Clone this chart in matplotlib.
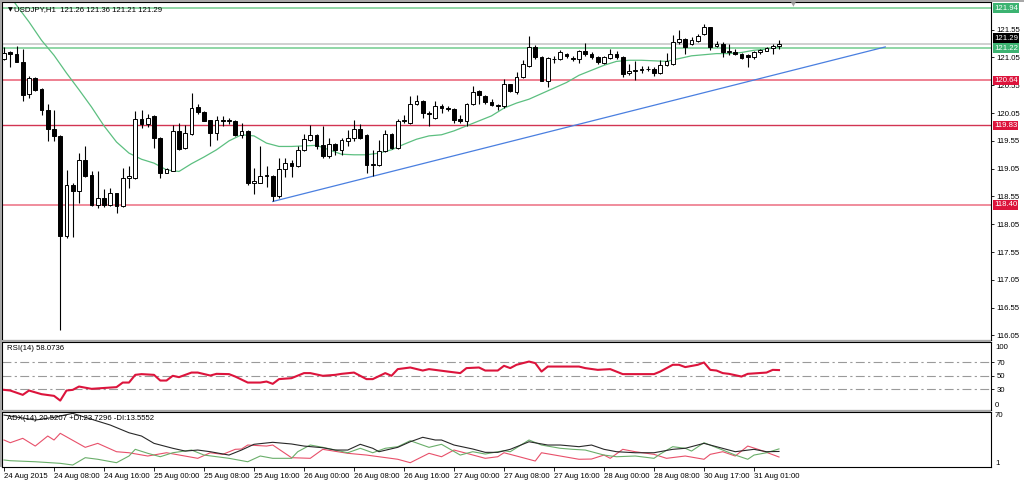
import matplotlib
matplotlib.use("Agg")
import matplotlib.pyplot as plt
import matplotlib.transforms as mtransforms
from matplotlib.patches import Rectangle

plt.rcParams["font.family"] = ["Liberation Sans", "DejaVu Sans"]

W, H = 1024, 483
FS = 5.6

# USDJPY H1 candles, 24 Aug 2015 00:00 onwards
opens = [121.02, 121.14, 121.11, 120.96, 120.39, 120.68, 120.48, 120.11, 119.76, 119.64,
         117.84, 118.76, 118.65, 119.20, 118.93, 118.40, 118.53, 118.40, 118.61, 118.38,
         118.88, 118.88, 119.94, 119.85, 120.00, 119.60, 118.98, 119.01, 119.73, 119.42,
         119.67, 120.16, 120.07, 119.92, 119.69, 119.93, 119.91, 119.91, 119.66, 119.73,
         118.80, 118.80, 118.92, 118.91, 118.55, 119.04, 119.16, 119.09, 119.39, 119.57,
         119.65, 119.47, 119.28, 119.49, 119.39, 119.54, 119.61, 119.77, 119.66, 119.12,
         119.11, 119.36, 119.67, 119.42, 119.91, 119.88, 120.21, 120.27, 120.05, 119.97,
         120.18, 120.14, 120.12, 119.94, 119.91, 120.21, 120.44, 120.35, 120.25, 120.20,
         120.17, 120.57, 120.43, 120.70, 120.90, 121.24, 121.06, 120.63, 121.03, 121.02,
         121.12, 121.04, 121.02, 121.17, 121.12, 121.05, 120.95, 121.04, 121.11, 121.06,
         120.78, 120.80, 120.83, 120.85, 120.84, 120.77, 120.92, 120.93, 121.32, 121.38,
         121.29, 121.35, 121.47, 121.59, 121.26, 121.30, 121.15, 121.15, 121.11, 121.10,
         121.05, 121.14, 121.17, 121.22, 121.26]
highs = [121.24, 121.16, 121.26, 121.20, 120.71, 120.70, 120.50, 120.21, 120.10, 119.66,
         119.03, 118.80, 119.33, 119.46, 119.00, 119.00, 118.68, 118.70, 118.62, 119.06,
         119.09, 120.09, 120.11, 120.03, 120.01, 119.62, 119.06, 119.83, 119.88, 119.83,
         120.41, 120.22, 120.08, 119.93, 120.00, 120.00, 119.96, 119.93, 119.87, 119.75,
         119.06, 119.45, 119.09, 118.93, 119.24, 119.24, 119.20, 119.45, 119.67, 119.83,
         119.67, 119.81, 119.61, 119.52, 119.61, 119.75, 119.93, 119.85, 119.68, 119.39,
         119.57, 119.75, 119.70, 119.95, 120.02, 120.35, 120.38, 120.29, 120.09, 120.27,
         120.22, 120.17, 120.14, 120.02, 120.24, 120.54, 120.47, 120.37, 120.31, 120.22,
         120.66, 120.58, 120.79, 121.00, 121.43, 121.28, 121.07, 121.06, 121.08, 121.19,
         121.13, 121.08, 121.19, 121.31, 121.14, 121.07, 121.08, 121.21, 121.16, 121.08,
         120.93, 120.98, 120.89, 120.89, 120.87, 121.00, 121.13, 121.45, 121.55, 121.40,
         121.42, 121.47, 121.65, 121.60, 121.35, 121.32, 121.29, 121.20, 121.13, 121.12,
         121.17, 121.21, 121.24, 121.30, 121.36]
lows = [121.00, 120.88, 120.96, 120.26, 120.32, 120.44, 120.02, 119.55, 119.55, 116.15,
        117.80, 117.83, 118.44, 118.90, 118.38, 118.34, 118.37, 118.38, 118.25, 118.37,
        118.70, 118.86, 119.79, 119.80, 119.42, 118.88, 118.97, 119.00, 119.39, 119.40,
        119.66, 120.04, 119.90, 119.45, 119.57, 119.81, 119.86, 119.63, 119.60, 118.76,
        118.59, 118.79, 118.72, 118.46, 118.53, 118.90, 118.90, 119.08, 119.37, 119.55,
        119.40, 119.25, 119.25, 119.30, 119.30, 119.45, 119.55, 119.58, 118.97, 118.92,
        119.10, 119.35, 119.40, 119.40, 119.87, 119.86, 120.20, 119.97, 119.81, 119.95,
        120.05, 120.09, 119.87, 119.87, 119.81, 120.19, 120.21, 120.22, 120.17, 120.10,
        120.15, 120.43, 120.40, 120.68, 120.88, 121.02, 120.62, 120.52, 120.95, 121.00,
        121.04, 120.99, 120.95, 121.08, 121.03, 120.93, 120.94, 121.02, 121.03, 120.70,
        120.73, 120.65, 120.77, 120.80, 120.72, 120.76, 120.90, 120.91, 121.30, 121.12,
        121.27, 121.33, 121.45, 121.18, 121.24, 121.06, 121.10, 121.10, 121.02, 120.88,
        121.02, 121.12, 121.16, 121.11, 121.21]
closes = [121.13, 121.12, 120.97, 120.38, 120.68, 120.47, 120.11, 119.76, 119.64, 117.84,
          118.76, 118.65, 119.21, 118.92, 118.40, 118.53, 118.40, 118.61, 118.38, 118.88,
          118.92, 119.94, 119.85, 119.97, 119.60, 118.98, 119.05, 119.73, 119.40, 119.69,
          120.15, 120.07, 119.91, 119.69, 119.93, 119.91, 119.93, 119.66, 119.73, 118.80,
          118.82, 118.92, 118.93, 118.55, 119.04, 119.15, 119.09, 119.39, 119.58, 119.66,
          119.45, 119.28, 119.49, 119.39, 119.57, 119.61, 119.76, 119.60, 119.12, 119.13,
          119.37, 119.67, 119.43, 119.91, 119.92, 120.21, 120.27, 120.05, 120.03, 120.18,
          120.14, 120.12, 119.93, 119.91, 120.21, 120.43, 120.37, 120.25, 120.19, 120.18,
          120.57, 120.45, 120.70, 120.93, 121.24, 121.05, 120.63, 121.04, 121.02, 121.14,
          121.07, 121.03, 121.17, 121.11, 121.05, 120.96, 121.06, 121.11, 121.05, 120.75,
          120.80, 120.82, 120.85, 120.84, 120.77, 120.92, 120.99, 121.32, 121.38, 121.24,
          121.37, 121.44, 121.60, 121.24, 121.30, 121.15, 121.16, 121.12, 121.04, 121.05,
          121.15, 121.19, 121.22, 121.26, 121.29]

# moving average (every 2nd bar)
ma_idx = list(range(0, 125, 2))
ma_val = [122.30, 121.99, 121.69, 121.36, 121.09, 120.77, 120.47, 120.16, 119.82, 119.53,
          119.33, 119.22, 119.15, 119.03, 119.00, 119.14, 119.26, 119.39, 119.55, 119.66,
          119.64, 119.51, 119.45, 119.45, 119.46, 119.47, 119.39, 119.31, 119.30, 119.30,
          119.33, 119.39, 119.49, 119.58, 119.64, 119.66, 119.73, 119.82, 119.91, 120.00,
          120.14, 120.23, 120.30, 120.40, 120.50, 120.60, 120.73, 120.82, 120.91, 120.98,
          121.00, 121.00, 120.99, 120.98, 121.03, 121.08, 121.10, 121.12, 121.12, 121.14,
          121.18, 121.20, 121.24]

rsi_idx = [0, 1, 3, 4, 6, 8, 9, 10, 11, 12, 14, 17, 18, 19, 20, 21, 22, 24, 25, 26,
           27, 28, 30, 31, 33, 34, 36, 37, 39, 41, 42, 43, 44, 46, 48, 49, 51, 53, 54, 56,
           58, 59, 61, 62, 63, 65, 67, 68, 71, 73, 74, 76, 77, 79, 80, 81, 82, 84, 85, 86,
           87, 90, 92, 93, 95, 97, 99, 101, 104, 105, 107, 108, 109, 111, 112, 113, 114, 115, 116, 118,
           119, 122, 123, 124]
rsi_val = [28.8, 27.8, 21.4, 27.8, 22.4, 19.9, 12.9, 27.8, 28.8, 33.7, 30.3, 32.2, 32.8, 39.6, 39.6, 51.0, 52.1, 51.0, 42.6, 42.6,
           49.6, 47.6, 54.4, 54.4, 50.0, 52.5, 52.1, 48.5, 39.6, 39.6, 41.1, 37.7, 44.7, 46.1, 53.6, 53.6, 49.6, 51.0, 52.5, 54.4,
           44.7, 44.7, 53.6, 49.6, 59.5, 61.9, 57.4, 59.5, 55.9, 53.6, 61.0, 61.9, 57.4, 57.4, 64.4, 61.0, 65.9, 70.7, 68.4, 55.9,
           63.3, 63.3, 63.3, 61.0, 58.4, 59.5, 52.1, 52.1, 52.1, 55.9, 65.9, 65.9, 62.5, 65.9, 69.3, 58.4, 57.4, 53.6, 52.5, 48.5,
           52.5, 54.4, 58.4, 58.07]

adx_idx = [0, 5, 8, 11, 13, 17, 20, 22, 24, 27, 29, 31, 33, 36, 38, 40, 43, 46, 48, 51,
           53, 55, 57, 59, 60, 63, 65, 67, 69, 70, 72, 75, 77, 79, 81, 84, 87, 89, 92, 94,
           96, 98, 101, 104, 107, 109, 112, 114, 117, 120, 122, 124]
adx_val = [66.2, 60.0, 63.4, 68.4, 63.4, 53.7, 44.0, 39.9, 30.7, 24.5, 21.0, 22.3, 20.2, 16.0, 22.3, 29.5, 32.0, 29.9, 27.3, 25.2,
           22.3, 22.3, 29.5, 24.5, 20.2, 25.7, 32.7, 38.3, 34.9, 34.9, 28.6, 23.6, 19.4, 19.4, 23.2, 32.7, 28.6, 28.6, 26.5, 28.6,
           23.2, 20.2, 18.9, 18.9, 23.2, 24.5, 30.7, 26.5, 20.2, 23.2, 20.2, 20.52]

pdi_idx = [0, 1, 5, 9, 11, 13, 15, 18, 20, 21, 23, 25, 27, 30, 32, 36, 39, 41, 43, 46,
           47, 49, 51, 55, 57, 59, 61, 63, 65, 68, 70, 73, 75, 77, 80, 81, 84, 86, 89, 91,
           93, 96, 98, 101, 104, 105, 107, 109, 110, 112, 115, 117, 119, 120, 122, 124]
pdi_val = [9.8, 8.9, 7.6, 5.6, 3.5, 12.7, 10.7, 6.4, 14.8, 23.2, 18.2, 13.9, 18.9, 22.3, 16.0, 11.9, 7.6, 14.8, 11.9, 11.9,
           20.2, 28.6, 25.7, 18.9, 24.5, 18.9, 24.5, 26.5, 34.0, 25.7, 29.5, 16.0, 20.2, 17.3, 21.5, 20.2, 34.9, 28.6, 24.5, 23.2,
           22.3, 16.0, 13.9, 14.8, 11.9, 17.3, 26.5, 24.5, 21.0, 31.5, 22.3, 16.0, 10.7, 16.0, 18.9, 23.73]

mdi_idx = [0, 1, 3, 5, 7, 8, 9, 13, 15, 18, 20, 23, 26, 31, 33, 35, 37, 38, 39, 42,
           43, 46, 49, 51, 55, 58, 63, 65, 68, 70, 72, 74, 77, 79, 80, 82, 85, 86, 89, 92,
           94, 96, 97, 99, 101, 104, 106, 109, 112, 113, 115, 117, 119, 121, 124]
mdi_val = [34.9, 31.5, 37.0, 27.3, 39.9, 34.9, 43.3, 25.7, 30.7, 20.2, 18.9, 14.8, 18.9, 11.9, 18.9, 16.9, 23.2, 23.6, 28.6, 27.3,
           28.6, 12.7, 11.9, 23.2, 18.2, 16.0, 10.7, 6.4, 18.2, 13.9, 22.3, 18.2, 11.9, 13.9, 18.9, 14.8, 8.5, 18.9, 14.8, 10.7,
           11.0, 16.0, 11.9, 23.2, 20.2, 16.9, 11.9, 14.8, 10.7, 16.9, 20.2, 14.8, 27.3, 22.3, 13.56]

trend_idx = [43, 141]
trend_val = [118.46, 121.24]

level_vals = [121.94, 121.22, 120.64, 119.83, 118.40]
level_line_colors = ["#8fd6a6", "#8fd6a6", "#ee8090", "#d23452", "#f08c9c"]
level_box_colors = ["#3cb371", "#3cb371", "#dc143c", "#dc143c", "#dc143c"]
bid_price = 121.29

price_ticks = [116.05, 116.55, 117.05, 117.55, 118.05, 118.55, 119.05, 119.55,
               120.05, 120.55, 121.05, 121.55]
date_idx = [0, 8, 16, 24, 32, 40, 48, 56, 64, 72, 80, 88, 96, 104, 112, 120]
date_labels = ["24 Aug 2015", "24 Aug 08:00", "24 Aug 16:00", "25 Aug 00:00", "25 Aug 08:00",
               "25 Aug 16:00", "26 Aug 00:00", "26 Aug 08:00", "26 Aug 16:00", "27 Aug 00:00",
               "27 Aug 08:00", "27 Aug 16:00", "28 Aug 00:00", "28 Aug 08:00", "30 Aug 17:00",
               "31 Aug 01:00"]

fig = plt.figure(figsize=(W / 100, H / 100), dpi=100, facecolor="white")


def px_axes(x0, y0, x1, y1):
    return fig.add_axes([x0 / W, 1 - y1 / H, (x1 - x0) / W, (y1 - y0) / H])


XL = (-0.32, 157.92)
ax = px_axes(2, 2, 991, 339.5)
ax_rsi = px_axes(2, 341.5, 991, 409.5)
ax_adx = px_axes(2, 411.5, 991, 467)

for a in (ax, ax_rsi, ax_adx):
    a.set_xlim(*XL)
    a.set_facecolor("white")
    for s in a.spines.values():
        s.set_color("black")
        s.set_linewidth(0.8)
    a.yaxis.tick_right()
    a.tick_params(axis="y", length=2.5, width=0.6, pad=1.5, labelsize=FS, colors="black")
    a.tick_params(axis="x", bottom=False, labelbottom=False)

# gaps / frame
for (x0, y0, x1, y1) in [(0, 0, 1024, 2), (0, 0, 2, 467), (2, 339.5, 991, 341.5), (2, 409.5, 991, 411.5)]:
    fig.patches.append(Rectangle((x0 / W, 1 - y1 / H), (x1 - x0) / W, (y1 - y0) / H,
                                 transform=fig.transFigure, facecolor="#a8a8a8",
                                 edgecolor="none", zorder=0))

# ---- main price panel
ax.set_ylim(115.978, 122.048)
ax.set_yticks(price_ticks)
ax.set_yticklabels(["%.2f" % p for p in price_ticks])

for p, c in zip(level_vals, level_line_colors):
    lw = 1.0 if c == "#d23452" else 1.4
    ax.axhline(p, color=c, lw=lw, zorder=1)
ax.axhline(bid_price, color="#c8c8c8", lw=1.2, zorder=1)

ax.plot(trend_idx, trend_val, color="#4a7fe0", lw=0.9, zorder=2)
ax.plot(ma_idx, ma_val, color="#5cbf80", lw=0.9, zorder=2)

idx = list(range(len(opens)))
ax.vlines(idx, lows, highs, color="black", lw=0.8, zorder=3)
bottoms = [min(o, c) for o, c in zip(opens, closes)]
heights = [max(abs(c - o), 0.002) for o, c in zip(opens, closes)]
faces = ["white" if c >= o else "black" for o, c in zip(opens, closes)]
ax.bar(idx, heights, bottom=bottoms, width=0.62, color=faces, edgecolor="black",
       linewidth=0.7, zorder=4)

blend = mtransforms.blended_transform_factory(ax.transAxes, ax.transData)
# bid label sits just above the 121.22 box (mostly hidden behind it in the original)
ax.text(1.003, bid_price + 0.045, "%.2f" % bid_price, transform=blend, ha="left", va="bottom",
        fontsize=FS, color="white", clip_on=False, zorder=5,
        bbox=dict(boxstyle="square,pad=0.15", fc="black", ec="none"))
for p, c in zip(level_vals, level_box_colors):
    ax.text(1.003, p, "%.2f" % p, transform=blend, ha="left", va="center",
            fontsize=FS, color="white", clip_on=False, zorder=6,
            bbox=dict(boxstyle="square,pad=0.15", fc=c, ec="none"))

fig.text(8 / W, 1 - 10 / H, "\u25bc", fontsize=4.5, color="black", ha="left", va="center",
         family="DejaVu Sans")
fig.text(14 / W, 1 - 10 / H, "USDJPY,H1  121.26 121.36 121.21 121.29", fontsize=FS,
         color="black", ha="left", va="center")
fig.text(793 / W, 1 - 5 / H, "\u25bc", fontsize=4.5, color="#a0a0a0", ha="center",
         va="center", family="DejaVu Sans")

# ---- RSI panel
ax_rsi.set_ylim(-0.3, 100.4)
for lv in (70, 50, 30):
    ax_rsi.axhline(lv, color="#9a9a9a", lw=0.8, ls=(0, (8, 3, 2, 3)), zorder=1)
ax_rsi.plot(rsi_idx, rsi_val, color="#dc143c", lw=1.5, zorder=3)
ax_rsi.set_yticks([30, 50, 70])
ax_rsi.set_yticklabels(["30", "50", "70"])
blend_r = mtransforms.blended_transform_factory(ax_rsi.transAxes, ax_rsi.transData)
ax_rsi.text(1.004, 97, "100", transform=blend_r, ha="left", va="top", fontsize=FS, clip_on=False)
ax_rsi.text(1.004, 1, "0", transform=blend_r, ha="left", va="bottom", fontsize=FS, clip_on=False)
fig.text(7 / W, 1 - 348 / H, "RSI(14) 58.0736", fontsize=FS, ha="left", va="center")

# ---- ADX panel
ax_adx.set_ylim(1, 70.7)
ax_adx.set_yticks([])
ax_adx.plot(mdi_idx, mdi_val, color="#e8506a", lw=0.8, zorder=2)
ax_adx.plot(pdi_idx, pdi_val, color="#6aae6a", lw=0.8, zorder=2)
ax_adx.plot(adx_idx, adx_val, color="#282828", lw=0.8, zorder=3)
blend_a = mtransforms.blended_transform_factory(ax_adx.transAxes, ax_adx.transData)
ax_adx.text(1.004, 70, "70", transform=blend_a, ha="left", va="top", fontsize=FS, clip_on=False)
ax_adx.text(1.004, 1.5, "1", transform=blend_a, ha="left", va="bottom", fontsize=FS, clip_on=False)
fig.text(7 / W, 1 - 418 / H, "ADX(14) 20.5207 +DI:23.7296 -DI:13.5552", fontsize=FS,
         ha="left", va="center")

ax_adx.tick_params(axis="x", bottom=True, labelbottom=True, length=3, width=0.6,
                   direction="out", pad=1.5, labelsize=FS)
ax_adx.set_xticks(date_idx)
ax_adx.set_xticklabels(date_labels)
for lbl in ax_adx.get_xticklabels():
    lbl.set_ha("left")

fig.savefig("out.png", dpi=100, facecolor="white")
